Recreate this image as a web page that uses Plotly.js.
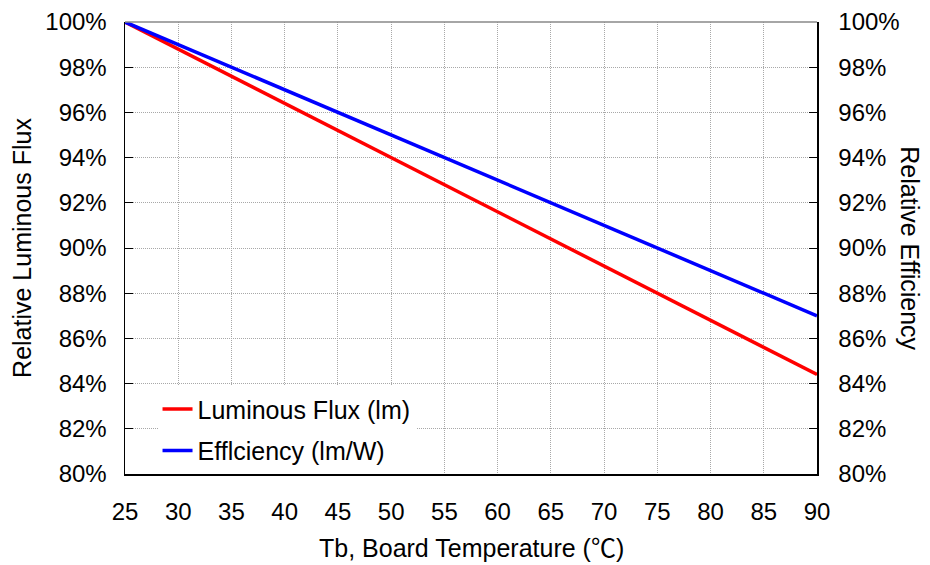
<!DOCTYPE html>
<html>
<head>
<meta charset="utf-8">
<script src="https://cdn.plot.ly/plotly-3.0.1.min.js"></script>
<style>html,body{margin:0;padding:0;background:#fff;}#chart{width:930px;height:565px;}</style>
</head>
<body>
<div id="chart"></div>
<script>
const temperature = [25, 30, 35, 40, 45, 50, 55, 60, 65, 70, 75, 80, 85, 90];
const luminousFlux = [1.000, 0.988, 0.976, 0.964, 0.952, 0.940, 0.928, 0.916, 0.904, 0.892, 0.880, 0.868, 0.856, 0.844];
const efficiency = [1.00, 0.99, 0.98, 0.97, 0.96, 0.95, 0.94, 0.93, 0.92, 0.91, 0.90, 0.89, 0.88, 0.87];
const seriesNames = ['Luminous Flux (lm)', 'Efflciency (lm/W)'];
const xTitle = 'Tb, Board Temperature (<span style="font-family:\'Noto Sans CJK SC\'">℃</span>)';
const yTitleLeft = 'Relative Luminous Flux';
const yTitleRight = 'Relative Efficiency';

const FONT = 'Liberation Sans, Arial, sans-serif';
const TICK = 24;
const TITLE = 25;

const traces = [
  {x: temperature, y: luminousFlux, name: seriesNames[0], mode: 'lines', line: {color: '#ff0000', width: 3.5}, legendgroup: 'a'},
  {x: temperature, y: efficiency, name: seriesNames[1], mode: 'lines', line: {color: '#0000ff', width: 3.5}, legendgroup: 'b'},
  {x: temperature, y: efficiency, yaxis: 'y2', mode: 'lines', line: {width: 0}, showlegend: false, hoverinfo: 'skip'}
];

const gridStyle = {showgrid: true, gridcolor: '#a8a8a8', griddash: '1px,1px', gridwidth: 1};

const layout = {
  width: 930, height: 565,
  margin: {l: 125, r: 113, t: 22, b: 91},
  paper_bgcolor: '#fff', plot_bgcolor: '#fff',
  font: {family: FONT, size: TICK, color: '#000'},
  showlegend: true,
  xaxis: Object.assign({
    range: [25, 90], dtick: 5, tick0: 25,
    showline: true, linecolor: '#000', linewidth: 1.5,
    ticks: '', zeroline: false, ticklabelstandoff: 16,
    tickfont: {family: FONT, size: TICK}
  }, gridStyle),
  yaxis: Object.assign({
    range: [0.8, 1.0], dtick: 0.02, tick0: 0.8, tickformat: '.0%',
    showline: true, linecolor: '#000', linewidth: 1.5,
    ticks: 'inside', ticklen: 8, tickcolor: '#000', zeroline: false,
    ticklabelstandoff: 12,
    tickfont: {family: FONT, size: TICK}
  }, gridStyle),
  yaxis2: {
    range: [0.8, 1.0], dtick: 0.02, tick0: 0.8, tickformat: '.0%',
    overlaying: 'y', side: 'right',
    showline: true, linecolor: '#000', linewidth: 1.5,
    ticks: 'inside', ticklen: 8, tickcolor: '#000', zeroline: false, showgrid: false,
    ticklabelstandoff: 15,
    tickfont: {family: FONT, size: TICK}
  },
  legend: {
    x: 0.047, y: 0.194, xanchor: 'left', yanchor: 'top',
    bgcolor: '#fff', borderwidth: 0,
    font: {family: FONT, size: TITLE},
    traceorder: 'grouped', tracegroupgap: 6,
    itemwidth: 30
  },
  shapes: [
    {type: 'line', xref: 'paper', yref: 'paper', x0: 0, x1: 1, y0: 1, y1: 1, line: {color: '#888', width: 1.5}}
  ],
  annotations: [
    {text: yTitleLeft, xref: 'paper', yref: 'paper', x: -0.149, y: 0.5, xanchor: 'center', yanchor: 'middle', textangle: -90, showarrow: false, font: {family: FONT, size: TITLE}},
    {text: yTitleRight, xref: 'paper', yref: 'paper', x: 1.134, y: 0.5, xanchor: 'center', yanchor: 'middle', textangle: 90, showarrow: false, font: {family: FONT, size: TITLE}},
    {text: xTitle, xref: 'paper', yref: 'paper', x: 0.5, y: -0.16, xanchor: 'center', yanchor: 'middle', showarrow: false, font: {family: FONT, size: TITLE}}
  ]
};

Plotly.newPlot('chart', traces, layout, {displayModeBar: false, staticPlot: true});
</script>
</body>
</html>
